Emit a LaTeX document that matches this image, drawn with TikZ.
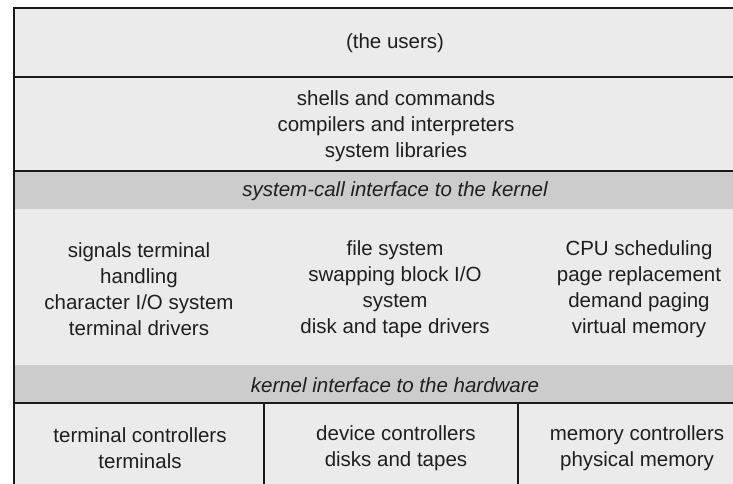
\documentclass[tikz,border=0pt]{standalone}
\usepackage{fontspec}
\setmainfont{Liberation Sans}
\begin{document}
\begin{tikzpicture}[x=1pt,y=-1pt,
  every node/.style={inner sep=0pt},
  lbl/.style={align=center,font=\fontsize{20.5}{26}\selectfont,text=black!88},
  ital/.style={lbl,font=\fontsize{20.5}{26}\selectfont\itshape},
  rule/.style={draw=black!90,line width=2pt},
  paper/.style={fill=black!8},
  band/.style={fill=black!20}]
\useasboundingbox (0,0) rectangle (733,484);
\fill[white] (0,0) rectangle (733,484);
% fills
\fill[paper] (14,8) rectangle (776,490);
\fill[band] (14,171) rectangle (776,209);
\fill[band] (14,365) rectangle (776,403);
% rules
\coordinate (tl) at (14,8);
\coordinate (tr) at (776,8);
\coordinate (bl) at (14,490);
\coordinate (a1) at (14,77);  \coordinate (a2) at (776,77);
\coordinate (b1) at (14,171); \coordinate (b2) at (776,171);
\coordinate (c1) at (14,403); \coordinate (c2) at (776,403);
\coordinate (d1) at (264,403); \coordinate (d2) at (264,490);
\coordinate (e1) at (518,403); \coordinate (e2) at (518,490);
\draw[rule,line width=2.5pt] (bl) -- (tl) -- (tr);
\draw[rule] (a1) -- (a2);
\draw[rule] (b1) -- (b2);
\draw[rule] (c1) -- (c2);
\draw[rule] (d1) -- (d2);
\draw[rule] (e1) -- (e2);
% texts
\node[lbl] (users) at (395,43) {(the users)};
\node[lbl] (shells) at (396,126) {shells and commands\\compilers and interpreters\\system libraries};
\node[ital] (syscall) at (395,191) {system-call interface to the kernel};
\node[lbl] (sig) at (139,289) {signals terminal\\handling\\character I/O system\\terminal drivers};
\node[lbl] (fs) at (395,289) {file system\\swapping block I/O\\system\\disk and tape drivers};
\node[lbl] (cpu) at (639,289) {CPU scheduling\\page replacement\\demand paging\\virtual memory};
\node[ital] (khw) at (395,385) {kernel interface to the hardware};
\node[lbl] (tc) at (140,448) {terminal controllers\\terminals};
\node[lbl] (dc) at (396,448) {device controllers\\disks and tapes};
\node[lbl] (mc) at (637,448) {memory controllers\\physical memory};
\end{tikzpicture}
\end{document}
